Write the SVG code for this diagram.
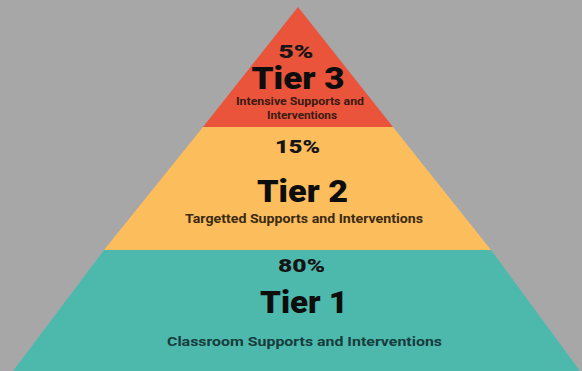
<svg xmlns="http://www.w3.org/2000/svg" width="582" height="371" viewBox="0 0 582 371">
  <style>
    .pct { font-family: Roboto, "Liberation Sans", sans-serif; font-weight: 900; font-size: 18px; fill: #151515; text-anchor: middle; }
    .tier { font-family: Roboto, "Liberation Sans", sans-serif; font-weight: 900; font-size: 31px; fill: #0d0d0d; text-anchor: middle; }
    .desc { font-family: Roboto, "Liberation Sans", sans-serif; font-weight: 700; text-anchor: middle; }
  </style>
  <!-- backdrop -->
  <rect x="0" y="0" width="582" height="371" fill="#a7a7a8"/>

  <!-- top tier: intensive -->
  <g id="tier3">
    <polygon points="298,7 203,127 393,127" fill="#e9543a"/>
    <text class="pct" x="296" y="58" font-size="16" textLength="35" lengthAdjust="spacingAndGlyphs">5%</text>
    <text class="tier" x="298" y="89" font-size="29" textLength="93" lengthAdjust="spacingAndGlyphs">Tier 3</text>
    <text class="desc" x="300" y="104.5" font-size="10" fill="#3a1a12" textLength="128" lengthAdjust="spacingAndGlyphs">Intensive Supports and</text>
    <text class="desc" x="302" y="119" font-size="10" fill="#3a1a12" textLength="70" lengthAdjust="spacingAndGlyphs">Interventions</text>
  </g>

  <!-- middle tier: targeted -->
  <g id="tier2">
    <polygon points="203,127 393,127 491,250 104,250" fill="#fcbd5c"/>
    <text class="pct" x="297.5" y="153" textLength="45" lengthAdjust="spacingAndGlyphs">15%</text>
    <text class="tier" x="302.5" y="202" textLength="91" lengthAdjust="spacingAndGlyphs">Tier 2</text>
    <text class="desc" x="304" y="222.5" font-size="12.5" fill="#3a2a12" textLength="238" lengthAdjust="spacingAndGlyphs">Targetted Supports and Interventions</text>
  </g>

  <!-- base tier: classroom -->
  <g id="tier1">
    <polygon points="104,250 491,250 580,371 13,371" fill="#4db9ad"/>
    <text class="pct" x="301.5" y="272" textLength="47" lengthAdjust="spacingAndGlyphs">80%</text>
    <text class="tier" x="304" y="313" textLength="88" lengthAdjust="spacingAndGlyphs">Tier 1</text>
    <text class="desc" x="304.5" y="346" font-size="13.5" fill="#173c3c" textLength="275" lengthAdjust="spacingAndGlyphs">Classroom Supports and Interventions</text>
  </g>

  <g id="connectors"/>
</svg>
